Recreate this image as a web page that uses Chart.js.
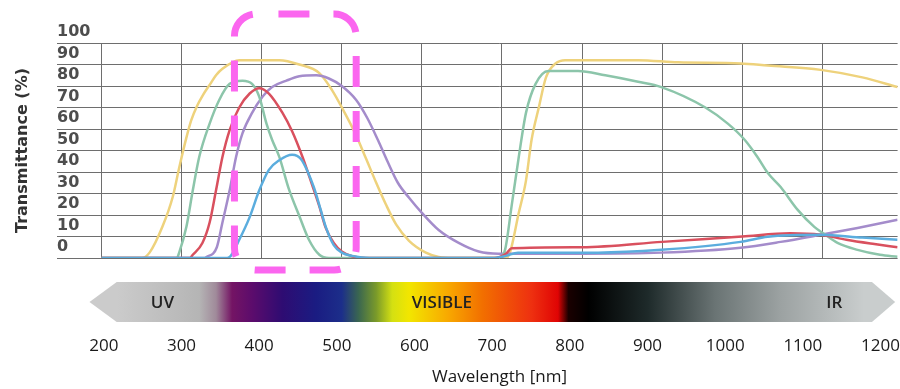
<!DOCTYPE html>
<html>
<head>
<meta charset="utf-8">
<title>Transmittance</title>
<script src="https://cdn.jsdelivr.net/npm/chart.js@4.4.1/dist/chart.umd.min.js"></script>
<style>
    html, body { margin: 0; padding: 0; background: #fff; overflow: hidden; }
    #wrap { width: 900px; height: 389px; }
</style>
</head>
<body>
<div id="wrap"><canvas id="transChart" width="900" height="389"></canvas></div>
<script>
// Tick labels
const wavelengthTicks = [200, 300, 400, 500, 600, 700, 800, 900, 1000, 1100, 1200];
const transmittanceTicks = [0, 10, 20, 30, 40, 50, 60, 70, 80, 90, 100];

// Curves: wavelength (nm) and transmittance (%)
const yellowNm  = [200, 250, 260, 276, 289, 297, 306, 312, 319, 327, 335, 343, 351, 372, 422, 447, 472, 488, 503, 518, 530, 543, 555, 568, 584, 605, 621, 640, 705, 710, 721, 730, 737, 746, 755, 767, 779, 870, 920, 998, 1032, 1098, 1150, 1194];
const yellowPct = [0, 0, 2.5, 14.5, 28.5, 42, 56, 64, 70.5, 76, 80.5, 85, 88, 92, 92, 90, 86, 78, 68, 57, 46.5, 35, 25, 15.5, 8, 2.5, 0.5, 0, 0, 2.5, 21, 36, 55, 70, 84, 90.5, 92, 92, 91, 90.5, 89.5, 87.5, 84, 79.5];

const greenNm  = [200, 294, 297, 306, 314, 322, 335, 347, 360, 376, 388, 397, 406, 413, 422, 434, 447, 459, 472, 484, 697, 704, 712, 721, 730, 742, 758, 795, 829, 870, 899, 954, 982, 1003, 1019, 1032, 1048, 1069, 1090, 1103, 1119, 1144, 1172, 1194];
const greenPct = [0, 0, 2.5, 14.5, 31.5, 47, 62.5, 73.5, 81, 82.5, 81, 75, 62.5, 55, 47, 32, 19.5, 8.5, 1.5, 0, 0, 4, 24, 47, 67.5, 81, 87, 87, 85, 82, 79.5, 70, 62.5, 55, 47, 39.5, 33, 22.5, 14.5, 11, 7, 3.8, 1.5, 0.6];

const redNm  = [200, 310, 314, 326, 335, 343, 351, 360, 372, 385, 397, 409, 426, 438, 451, 463, 472, 480, 490, 500, 513, 530, 690, 705, 712, 800, 900, 1000, 1060, 1098, 1130, 1165, 1194];
const redPct = [0, 0, 1.5, 7, 16.5, 31.5, 47, 59.5, 70, 76.5, 79, 76.5, 67.5, 59, 47, 34, 24, 14, 7, 3, 0.8, 0, 0, 2, 4.5, 5, 7.5, 10, 11.5, 10.8, 8.5, 6.5, 5];

const blueNm  = [200, 354, 360, 372, 385, 397, 409, 422, 438, 449, 465, 474, 480, 490, 500, 513, 535, 690, 705, 720, 820, 899, 998, 1032, 1098, 1150, 1194];
const bluePct = [0, 0, 0.5, 8.5, 19, 31.5, 41, 45.5, 48, 46, 33, 22, 14.5, 6, 2.5, 1, 0, 0, 1, 2.5, 2.5, 3.8, 7.5, 9.9, 10.8, 9.5, 8.5];

const purpleNm  = [200, 328, 331, 344, 351, 360, 368, 376, 388, 401, 413, 431, 447, 468, 484, 500, 518, 532, 545, 557, 570, 584, 600, 621, 646, 671, 696, 800, 899, 998, 1048, 1098, 1144, 1194];
const purplePct = [0, 0, 0.5, 5, 16.5, 31.5, 47, 58, 67.5, 75, 79.5, 82.5, 84.5, 85, 83.5, 80, 73.5, 65, 55, 45, 35, 28, 21, 13, 7, 3, 2, 2, 2.5, 4.8, 7.5, 10.8, 14, 17.8];

// Highlighted band (nm)
const highlightRange = [366, 518];

// Spectrum bar colours by wavelength (nm)
const spectrumStops = [
    [219, '#cbcbcb'], [322, '#b5b5b5'], [343, '#a08a9a'], [363, '#741464'], [388, '#5c0c6c'],
    [426, '#2e0c72'], [468, '#1a1c82'], [500, '#1c2e8a'], [521, '#3a6650'], [543, '#7a9a2a'],
    [563, '#d4e012'], [584, '#f2e600'], [633, '#f8a800'], [675, '#f27000'], [737, '#ee3010'],
    [770, '#e00404'], [783, '#1a0000'], [808, '#000000'], [882, '#1e2a2a'], [966, '#6a7474'],
    [1048, '#9ca2a2'], [1152, '#c9cdcd']
];
const spectrumLabels = [['UV', 276], ['VISIBLE', 625], ['IR', 1115]];

const gridColor = '#6e6e6e';

function toPoints(xs, ys) {
    return xs.map((x, i) => ({ x: x, y: ys[i] }));
}

function curve(xs, ys, color) {
    return {
        data: toPoints(xs, ys),
        borderColor: color,
        borderWidth: 2.5,
        pointRadius: 0,
        fill: false,
        cubicInterpolationMode: 'monotone'
    };
}

// Spectrum arrow under the plot
const spectrumBar = {
    id: 'spectrumBar',
    afterDraw(chart) {
        const { ctx, chartArea } = chart;
        const xs = chart.scales.x;
        const top = chartArea.bottom + 24;
        const bottom = chartArea.bottom + 64;
        const mid = (top + bottom) / 2;
        const tipL = xs.getPixelForValue(185);
        const bodyL = xs.getPixelForValue(219);
        const bodyR = xs.getPixelForValue(1162);
        const tipR = xs.getPixelForValue(1191);

        const grad = ctx.createLinearGradient(tipL, 0, tipR, 0);
        spectrumStops.forEach(([nm, col]) => {
            const p = (xs.getPixelForValue(nm) - tipL) / (tipR - tipL);
            grad.addColorStop(Math.min(1, Math.max(0, p)), col);
        });

        ctx.save();
        ctx.beginPath();
        ctx.moveTo(tipL, mid);
        ctx.lineTo(bodyL, top);
        ctx.lineTo(bodyR, top);
        ctx.lineTo(tipR, mid);
        ctx.lineTo(bodyR, bottom);
        ctx.lineTo(bodyL, bottom);
        ctx.closePath();
        ctx.fillStyle = grad;
        ctx.fill();

        ctx.font = '600 17px "Open Sans", sans-serif';
        ctx.fillStyle = '#222';
        ctx.textAlign = 'center';
        ctx.textBaseline = 'middle';
        spectrumLabels.forEach(([txt, nm]) => {
            ctx.fillText(txt, xs.getPixelForValue(nm), mid + 1);
        });
        ctx.restore();
    }
};

// Dashed magenta box around the highlighted band
const highlightBox = {
    id: 'highlightBox',
    afterDraw(chart) {
        const { ctx, chartArea } = chart;
        const xs = chart.scales.x;
        const left = xs.getPixelForValue(highlightRange[0]);
        const right = xs.getPixelForValue(highlightRange[1]);
        const top = chartArea.top - 29;
        const bottom = chartArea.bottom + 12;
        ctx.save();
        ctx.strokeStyle = '#fb66ef';
        ctx.lineWidth = 7;
        ctx.setLineDash([31, 24]);
        ctx.lineDashOffset = 33;
        ctx.beginPath();
        ctx.roundRect(left, top, right - left, bottom - top, 22);
        ctx.stroke();
        ctx.restore();
    }
};

new Chart(document.getElementById('transChart'), {
    type: 'line',
    data: {
        datasets: [
            curve(blueNm, bluePct, '#5badde'),
            curve(redNm, redPct, '#d9505e'),
            curve(greenNm, greenPct, '#8cc5aa'),
            curve(purpleNm, purplePct, '#a48ccb'),
            curve(yellowNm, yellowPct, '#eed27c')
        ]
    },
    options: {
        responsive: false,
        devicePixelRatio: 1,
        animation: false,
        layout: { padding: { top: 43, bottom: 2, left: 0, right: 0 } },
        plugins: {
            legend: { display: false },
            tooltip: { enabled: false },
            title: {
                display: true,
                position: 'left',
                fullSize: false,
                text: 'Transmittance (%)',
                color: '#333',
                padding: { top: 13, bottom: 24.8 },
                font: { family: 'DejaVu Sans', weight: 'bold', size: 16 }
            }
        },
        scales: {
            x: {
                type: 'linear',
                position: 'bottom',
                weight: 0,
                min: 200,
                max: 1194,
                afterBuildTicks: s => { s.ticks = wavelengthTicks.map(v => ({ value: v })); },
                afterFit: s => { s.height = 78; },
                grid: { color: gridColor, lineWidth: 1, drawTicks: false },
                border: { display: false },
                ticks: { display: false, autoSkip: false }
            },
            // label row under the spectrum bar
            xLabel: {
                type: 'linear',
                position: 'bottom',
                weight: 1,
                min: 197,
                max: 1222,
                afterBuildTicks: s => { s.ticks = wavelengthTicks.map(v => ({ value: v })); },
                afterFit: s => { s.height = 51; },
                grid: { display: false, drawTicks: false },
                border: { display: false },
                ticks: {
                    padding: 0,
                    maxRotation: 0,
                    autoSkip: false,
                    color: '#1a1a1a',
                    font: { family: 'Open Sans', size: 17 },
                    callback: v => String(v)
                },
                title: {
                    display: true,
                    text: 'Wavelength [nm]',
                    color: '#1a1a1a',
                    padding: 0,
                    font: { family: 'Open Sans', size: 17 }
                }
            },
            y: {
                min: 0,
                max: 100,
                afterBuildTicks: s => { s.ticks = transmittanceTicks.map(v => ({ value: v })); },
                afterFit: s => { s.width = 44.5; },
                grid: { color: gridColor, lineWidth: 1, drawTicks: true, tickLength: 44.5 },
                border: { display: false },
                ticks: {
                    autoSkip: false,
                    crossAlign: 'far',
                    labelOffset: -11,
                    padding: 0,
                    color: '#4d4d4d',
                    font: { family: 'DejaVu Sans', weight: 'bold', size: 16 },
                    callback: v => String(v)
                }
            }
        }
    },
    plugins: [spectrumBar, highlightBox]
});
</script>
</body>
</html>
